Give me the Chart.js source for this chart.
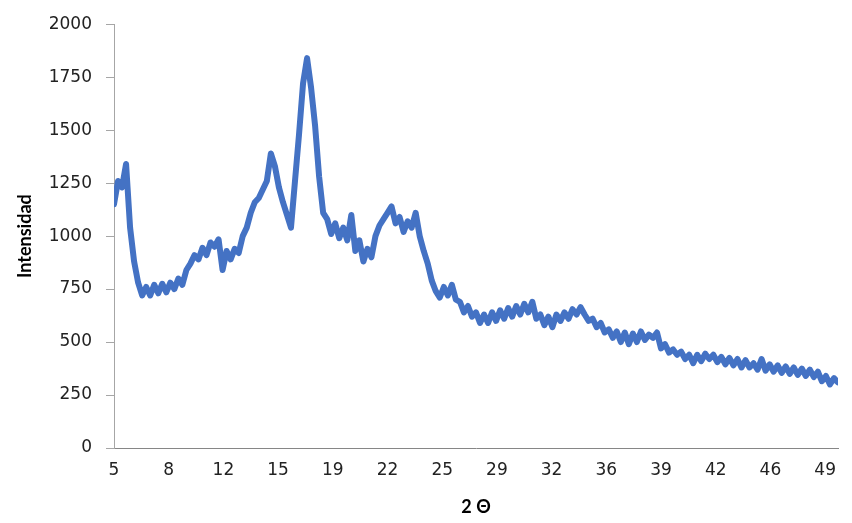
<!DOCTYPE html>
<html>
<head>
<meta charset="utf-8">
<script src="https://cdn.jsdelivr.net/npm/chart.js@4"></script>
<style>
  body { margin: 0; background: #fff; }
</style>
</head>
<body>
<canvas id="canvas" width="852" height="523"></canvas>
<script>
// 2 theta positions (degrees) and intensities
const twoTheta = [
  5, 5.25, 5.5, 5.75, 6, 6.25, 6.5, 6.75, 7, 7.25, 7.5, 7.75,
  8, 8.25, 8.5, 8.75, 9, 9.25, 9.5, 9.75, 10, 10.25, 10.5, 10.75,
  11, 11.25, 11.5, 11.75, 12, 12.25, 12.5, 12.75, 13, 13.25, 13.5, 13.75,
  14, 14.25, 14.5, 14.75, 15, 15.25, 15.5, 15.75, 16, 16.25, 16.5, 16.75,
  17, 17.25, 17.5, 17.75, 18, 18.25, 18.5, 18.75, 19, 19.25, 19.5, 19.75,
  20, 20.25, 20.5, 20.75, 21, 21.25, 21.5, 21.75, 22, 22.25, 22.5, 22.75,
  23, 23.25, 23.5, 23.75, 24, 24.25, 24.5, 24.75, 25, 25.25, 25.5, 25.75,
  26, 26.25, 26.5, 26.75, 27, 27.25, 27.5, 27.75, 28, 28.25, 28.5, 28.75,
  29, 29.25, 29.5, 29.75, 30, 30.25, 30.5, 30.75, 31, 31.25, 31.5, 31.75,
  32, 32.25, 32.5, 32.75, 33, 33.25, 33.5, 33.75, 34, 34.25, 34.5, 34.75,
  35, 35.25, 35.5, 35.75, 36, 36.25, 36.5, 36.75, 37, 37.25, 37.5, 37.75,
  38, 38.25, 38.5, 38.75, 39, 39.25, 39.5, 39.75, 40, 40.25, 40.5, 40.75,
  41, 41.25, 41.5, 41.75, 42, 42.25, 42.5, 42.75, 43, 43.25, 43.5, 43.75,
  44, 44.25, 44.5, 44.75, 45, 45.25, 45.5, 45.75, 46, 46.25, 46.5, 46.75,
  47, 47.25, 47.5, 47.75, 48, 48.25, 48.5, 48.75, 49, 49.25, 49.5, 49.75,
  50
];
const intensity = [
  1150, 1260, 1230, 1340, 1040, 880, 780, 720, 760, 720, 770, 730,
  775, 735, 780, 750, 800, 770, 840, 870, 910, 890, 945, 910,
  970, 950, 985, 840, 930, 890, 940, 920, 1000, 1040, 1110, 1160,
  1180, 1220, 1260, 1390, 1330, 1230, 1160, 1100, 1040, 1260, 1480, 1720,
  1840, 1700, 1520, 1280, 1110, 1080, 1010, 1060, 990, 1040, 980, 1100,
  930, 980, 880, 940, 900, 1000, 1050, 1080, 1110, 1140, 1060, 1090,
  1020, 1070, 1040, 1110, 1000, 930, 870, 790, 740, 710, 760, 720,
  770, 700, 690, 640, 670, 620, 640, 590, 630, 590, 640, 600,
  650, 610, 660, 620, 670, 630, 680, 640, 690, 610, 630, 580,
  620, 570, 630, 600, 640, 610, 655, 630, 665, 630, 600, 610,
  570, 590, 545, 560, 520, 550, 500, 545, 490, 540, 500, 550,
  510, 535, 520, 545, 470, 490, 450, 465, 440, 455, 420, 440,
  400, 440, 410, 445, 420, 440, 405, 430, 395, 425, 390, 420,
  380, 415, 380, 400, 370, 420, 365, 395, 360, 390, 355, 385,
  350, 380, 345, 375, 340, 370, 335, 360, 315, 340, 300, 330,
  310
];
const xTickValues = [5, 8.4, 11.8, 15.2, 18.6, 22, 25.4, 28.8, 32.2, 35.6, 39, 42.4, 45.8, 49.2];
const xTickLabels = ['5', '8', '12', '15', '19', '22', '25', '29', '32', '36', '39', '42', '46', '49'];
const yTicks = [0, 250, 500, 750, 1000, 1250, 1500, 1750, 2000];

const points = twoTheta.map((t, i) => ({ x: t, y: intensity[i] }));
const tickFont = { family: '"DejaVu Sans", Verdana, sans-serif', size: 17 };
const titleFont = { family: 'Lato, "Open Sans", sans-serif', size: 18, weight: 'bold' };

const ctx = document.getElementById('canvas').getContext('2d');
const myChart = new Chart(ctx, {
    type: 'line',
    data: {
        datasets: [{
            label: 'Intensidad',
            data: points,
            borderColor: '#4472C4',
            backgroundColor: 'transparent',
            borderWidth: 6,
            borderJoinStyle: 'round',
            borderCapStyle: 'round',
            pointRadius: 0,
            tension: 0
        }]
    },
    options: {
        responsive: false,
        animation: false,
        // chart area ends up at roughly 114..838 x 19..448
        layout: { padding: { top: 10, right: 14, left: 0, bottom: 0 } },
        plugins: { legend: { display: false }, tooltip: { enabled: false } },
        scales: {
            x: {
                type: 'linear',
                min: 5,
                max: 50,
                afterBuildTicks: scale => {
                    scale.ticks = xTickValues.map(v => ({ value: v }));
                },
                afterFit: scale => { scale.height = 75; },
                grid: { display: false, drawTicks: false },
                border: { display: true, color: '#868686', width: 1 },
                ticks: {
                    autoSkip: false,
                    maxRotation: 0,
                    padding: 12,
                    color: '#222',
                    font: tickFont,
                    callback: (value, index) => xTickLabels[index]
                },
                title: {
                    display: true,
                    text: '2 Θ',
                    color: '#000',
                    font: titleFont,
                    padding: { top: 0, bottom: 5 }
                }
            },
            y: {
                min: 0,
                max: 2000,
                afterBuildTicks: scale => {
                    scale.ticks = yTicks.map(v => ({ value: v }));
                },
                afterFit: scale => { scale.width = 114; },
                grid: { drawOnChartArea: false, drawTicks: true, tickLength: 8, color: '#a6a6a6' },
                border: { display: true, color: '#a6a6a6', width: 1 },
                ticks: {
                    padding: 14,
                    color: '#222',
                    font: tickFont,
                    callback: value => String(value)
                },
                title: {
                    display: true,
                    text: 'Intensidad',
                    color: '#000',
                    font: titleFont,
                    padding: { top: 14, bottom: 0 }
                }
            }
        }
    }
});
</script>
</body>
</html>
